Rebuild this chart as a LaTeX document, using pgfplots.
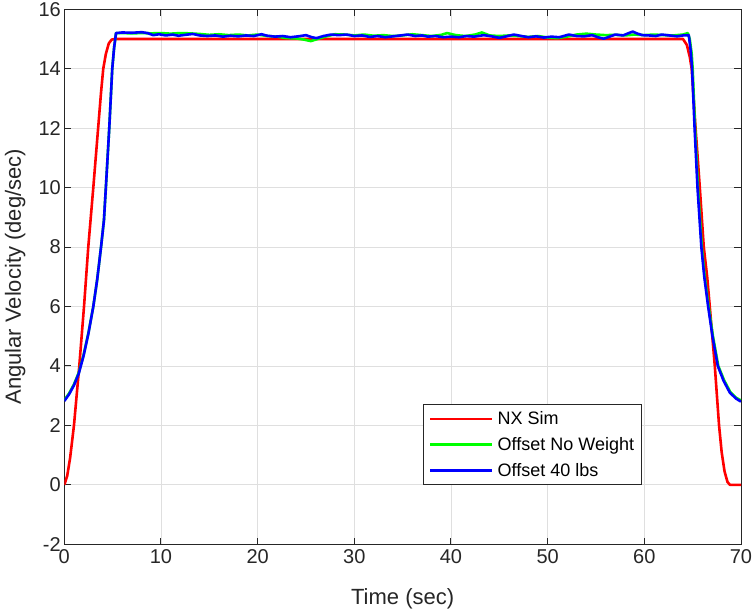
\documentclass[border=0pt]{standalone}
\usepackage{pgfplots}
\pgfplotsset{compat=1.18}
\usepackage{fontspec}
\setmainfont{Liberation Sans}

\definecolor{axgray}{RGB}{38,38,38}
\definecolor{gridgray}{RGB}{223,223,223}

\begin{document}
\begin{tikzpicture}
\useasboundingbox (-64.3pt,-67.7pt) rectangle (690.7pt,544.3pt);
\begin{axis}[
    scale only axis,
    width=676.7pt, height=535pt,
    xmin=0, xmax=70, ymin=-2, ymax=16,
    xtick={0,10,...,70},
    ytick={-2,0,...,16},
    grid=major,
    major grid style={line width=0.8pt, draw=gridgray},
    axis line style={line width=1pt, draw=axgray},
    tick style={line width=1pt, draw=axgray},
    major tick length=6.7pt,
    tick align=inside,
    xtick pos=both, ytick pos=both,
    /pgf/number format/assume math mode=true,
    tick label style={font=\fontsize{20}{24}\selectfont, text=axgray},
    xticklabel style={yshift=-2pt},
    label style={font=\fontsize{22}{26}\selectfont, text=axgray},
    xlabel={Time (sec)},
    ylabel={Angular Velocity (deg/sec)},
    x label style={at={(axis description cs:0.5,0)}, anchor=base, yshift=-60.7pt},
    y label style={at={([xshift=-43.5pt]axis description cs:0,0.5)}, anchor=base},
    legend style={at={(0.8537,0.111)}, anchor=south east, draw=axgray, line width=0.8pt,
        fill=white, font=\fontsize{18}{21}\selectfont, text=black,
        inner xsep=5.5pt, inner ysep=5pt, row sep=7pt},
    legend cell align=left,
    legend image code/.code={\draw[#1, line width=2.6pt] (0pt,0pt) -- (62pt,0pt); \path (64pt,0pt);},
]
% NX Sim
\addplot[color=red, line width=2.6pt, line join=round] coordinates {
    (0,0) (0.3,0.3) (0.6,0.9) (1.0,2.0) (1.55,4) (2.04,6) (2.48,8) (3.0,10)
    (3.5,12) (3.8,13.2) (4.03,14) (4.3,14.5) (4.6,14.85) (4.9,14.98) (5.2,15)
    (64.0,15) (64.4,14.8) (64.7,14.4) (64.9,14) (65.3,12) (65.74,10) (66.15,8)
    (66.5,7) (66.77,6) (67.29,4) (67.73,2) (68.0,1.1) (68.3,0.45) (68.6,0.1)
    (68.85,0) (70,0)
};
% Offset No Weight
\addplot[color=green, line width=2.6pt, line join=round] coordinates {
    (0,2.85) (0.5,3.08) (1.0,3.38) (1.5,3.78) (2.0,4.38) (2.5,5.12) (3.0,6.0)
    (3.4,6.9) (3.8,8) (4.1,8.9) (4.3,10) (4.65,12) (4.96,14) (5.15,14.7) (5.35,15.2)
    (6,15.2) (7,15.19) (8,15.2) (9,15.19) (10,15.2) (11,15.18) (12,15.2) (13,15.19)
    (14,15.17) (15,15.14) (16,15.16) (17,15.13) (18,15.15) (19,15.12) (20,15.15)
    (21,15.1) (22,15.08) (23,15.03) (24,15.02) (24.8,14.98) (25.5,14.93) (26.2,15.0)
    (27,15.08) (28,15.16) (29,15.15) (30,15.12) (31,15.15) (32,15.11) (33,15.13)
    (34,15.1) (35,15.12) (36,15.16) (37,15.13) (38,15.1) (39,15.14) (39.6,15.2)
    (40.5,15.13) (41.5,15.1) (42.5,15.15) (43.2,15.22) (44,15.12) (45,15.1)
    (46,15.12) (47,15.1) (48,15.07) (49,15.1) (50,15.05) (51,15.03) (52,15.08)
    (53,15.15) (54,15.18) (55,15.15) (56,15.13) (57,15.14) (58,15.12) (59,15.15)
    (60,15.13) (61,15.15) (62,15.13) (63,15.12) (64,15.15) (64.5,15.2)
    (64.7,15.0) (64.9,14.5) (65.0,14) (65.25,12) (65.55,10) (65.95,8) (66.25,7)
    (66.65,6) (67.1,5) (67.65,4) (68.25,3.52) (68.9,3.12) (69.5,2.93) (70,2.84)
};
% Offset 40 lbs
\addplot[color=blue, line width=2.6pt, line join=round] coordinates {
    (0,2.82) (0.5,3.05) (1.0,3.35) (1.5,3.75) (2.0,4.35) (2.5,5.1) (3.0,6.0)
    (3.4,6.9) (3.8,8) (4.1,8.9) (4.3,10) (4.65,12) (4.96,14) (5.15,14.7) (5.35,15.2)
    (6,15.22) (7,15.21) (8,15.23) (8.6,15.2) (9.2,15.13) (9.8,15.16) (10.5,15.12)
    (11.2,15.15) (11.8,15.11) (12.5,15.14) (13.3,15.17) (14,15.12) (14.8,15.1)
    (15.6,15.12) (16.4,15.08) (17.2,15.11) (18,15.09) (18.8,15.12) (19.6,15.1)
    (20.4,15.16) (21,15.11) (21.8,15.08) (22.6,15.1) (23.4,15.06) (24.2,15.09)
    (25,15.13) (25.6,15.06) (26.1,15.03) (26.8,15.1) (27.6,15.15) (28.4,15.13)
    (29.2,15.15) (30,15.1) (30.8,15.12) (31.6,15.07) (32.4,15.1) (33.2,15.06)
    (34,15.09) (34.8,15.12) (35.5,15.15) (36.3,15.1) (37,15.12) (37.6,15.08)
    (38.4,15.1) (39.2,15.06) (40,15.08) (40.8,15.06) (41.6,15.1) (42.4,15.08)
    (43.4,15.13) (44.2,15.09) (45,15.04) (45.6,15.08) (46.5,15.15) (47.3,15.1)
    (48,15.06) (48.8,15.09) (49.6,15.05) (50.4,15.08) (51.2,15.06) (52.2,15.15)
    (53,15.1) (53.8,15.09) (54.6,15.13) (55.2,15.06) (55.8,15.01) (56.4,15.08)
    (57,15.15) (57.8,15.12) (58.4,15.2) (58.8,15.25) (59.3,15.18) (59.8,15.13)
    (60.5,15.12) (61.2,15.1) (61.8,15.15) (62.6,15.12) (63.4,15.09) (64,15.12)
    (64.6,15.13) (64.8,14.6) (64.94,14) (65.2,12) (65.5,10) (65.9,8) (66.2,7)
    (66.6,6) (67.05,5) (67.6,4) (68.2,3.5) (68.85,3.1) (69.5,2.9) (70,2.8)
};
\legend{NX Sim, Offset No Weight, Offset 40 lbs}
\end{axis}
\end{tikzpicture}
\end{document}
